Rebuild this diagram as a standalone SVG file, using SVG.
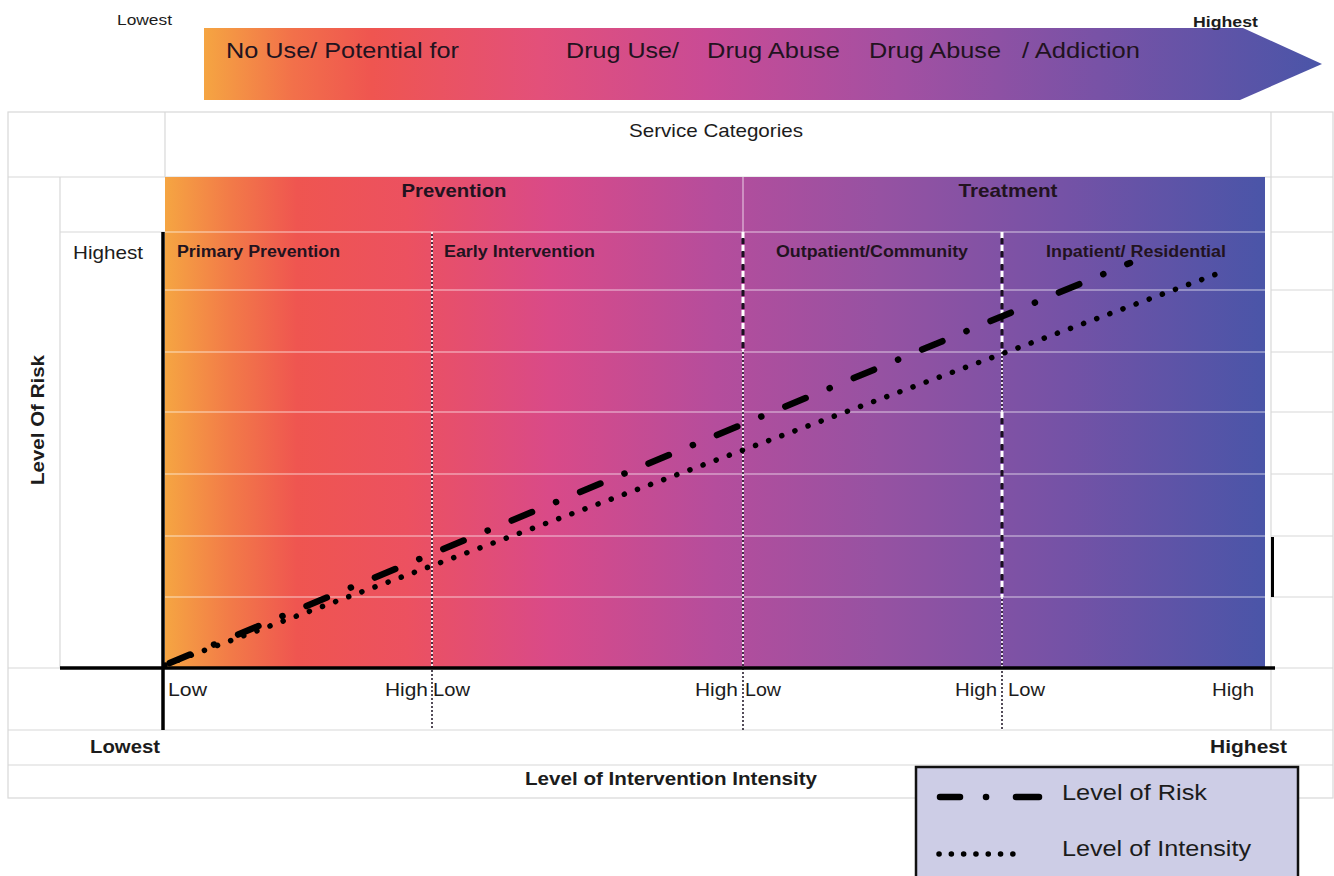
<svg xmlns="http://www.w3.org/2000/svg" width="1334" height="876" viewBox="0 0 1334 876">
<defs>
<linearGradient id="arrowGrad" x1="204" y1="0" x2="1322" y2="0" gradientUnits="userSpaceOnUse">
<stop offset="0" stop-color="#f5a542"/>
<stop offset="0.08" stop-color="#f2704a"/>
<stop offset="0.15" stop-color="#ef5550"/>
<stop offset="0.3" stop-color="#e3507a"/>
<stop offset="0.45" stop-color="#c94b95"/>
<stop offset="0.62" stop-color="#a350a2"/>
<stop offset="0.8" stop-color="#7852a6"/>
<stop offset="1" stop-color="#4a55a8"/>
</linearGradient>
<linearGradient id="chartGrad" x1="165" y1="0" x2="1265" y2="0" gradientUnits="userSpaceOnUse">
<stop offset="0" stop-color="#f5a542"/>
<stop offset="0.06" stop-color="#f27a48"/>
<stop offset="0.12" stop-color="#ef5550"/>
<stop offset="0.22" stop-color="#ec5160"/>
<stop offset="0.35" stop-color="#d94a88"/>
<stop offset="0.5" stop-color="#b54d9c"/>
<stop offset="0.65" stop-color="#9652a2"/>
<stop offset="0.82" stop-color="#7452a6"/>
<stop offset="1" stop-color="#4a55a8"/>
</linearGradient>
<style>
.grid{stroke:#d8d8d8;stroke-width:1.2;fill:none}
.wgrid{stroke:#ffffff;stroke-opacity:0.35;stroke-width:2}
.t{font-family:"Liberation Sans",Arial,sans-serif;fill:#1c1c1c}
.b{font-weight:bold}
.dk{fill:#22131f}
.axis{stroke:#000;stroke-width:3.5}
.dotW{stroke:#ffffff;stroke-width:1.6;stroke-dasharray:2 2}
.dotK{stroke:#2a2030;stroke-width:1.6;stroke-dasharray:2 2;stroke-dashoffset:2}
.dashW{stroke:#ffffff;stroke-width:3;stroke-dasharray:7 6}
.dashK{stroke:#1a1020;stroke-width:3;stroke-dasharray:6 7;stroke-dashoffset:7}
.risk{stroke:#000;stroke-width:6.5;stroke-linecap:round;fill:none}
.intens{stroke:#000;stroke-width:5.5;stroke-linecap:round;fill:none}
</style>
</defs>
<rect width="1334" height="876" fill="#ffffff"/>

<g id="top-arrow">
<polygon points="204,28 1243,28 1322,64 1240,100 204,100" fill="url(#arrowGrad)"/>
<text class="t" x="117" y="25" font-size="15" textLength="55" lengthAdjust="spacingAndGlyphs">Lowest</text>
<text class="t b" x="1193" y="27" font-size="15" textLength="65" lengthAdjust="spacingAndGlyphs">Highest</text>
<text class="t dk" x="226" y="58" font-size="22" textLength="233" lengthAdjust="spacingAndGlyphs">No Use/ Potential for</text>
<text class="t dk" x="566" y="58" font-size="22" textLength="113" lengthAdjust="spacingAndGlyphs">Drug Use/</text>
<text class="t dk" x="707" y="58" font-size="22" textLength="133" lengthAdjust="spacingAndGlyphs">Drug Abuse</text>
<text class="t dk" x="869" y="58" font-size="22" textLength="132" lengthAdjust="spacingAndGlyphs">Drug Abuse</text>
<text class="t dk" x="1022" y="58" font-size="22" textLength="118" lengthAdjust="spacingAndGlyphs">/ Addiction</text>
</g>

<g id="table-grid">
<rect x="8" y="112" width="1325" height="686" class="grid"/>
<line x1="8" y1="177" x2="1333" y2="177" class="grid"/>
<line x1="8" y1="730" x2="1333" y2="730" class="grid"/>
<line x1="8" y1="765" x2="1333" y2="765" class="grid"/>
<line x1="165" y1="112" x2="165" y2="177" class="grid"/>
<line x1="60" y1="177" x2="60" y2="668" class="grid"/>
<line x1="60" y1="232" x2="165" y2="232" class="grid"/>
<line x1="8" y1="668" x2="60" y2="668" class="grid"/>
<line x1="1271" y1="112" x2="1271" y2="730" class="grid"/>
<line x1="1271" y1="232" x2="1333" y2="232" class="grid"/>
<line x1="1271" y1="290" x2="1333" y2="290" class="grid"/>
<line x1="1271" y1="352" x2="1333" y2="352" class="grid"/>
<line x1="1271" y1="412" x2="1333" y2="412" class="grid"/>
<line x1="1271" y1="474" x2="1333" y2="474" class="grid"/>
<line x1="1271" y1="536" x2="1333" y2="536" class="grid"/>
<line x1="1271" y1="597" x2="1333" y2="597" class="grid"/>
<line x1="1271" y1="668" x2="1333" y2="668" class="grid"/>
<text class="t" x="716" y="137" font-size="19" text-anchor="middle" textLength="174" lengthAdjust="spacingAndGlyphs">Service Categories</text>
</g>

<g id="chart-area">
<rect x="165" y="177" width="1100" height="491" fill="url(#chartGrad)"/>
<line x1="165" y1="232" x2="1265" y2="232" class="wgrid"/>
<line x1="165" y1="290" x2="1265" y2="290" class="wgrid"/>
<line x1="165" y1="352" x2="1265" y2="352" class="wgrid"/>
<line x1="165" y1="412" x2="1265" y2="412" class="wgrid"/>
<line x1="165" y1="474" x2="1265" y2="474" class="wgrid"/>
<line x1="165" y1="536" x2="1265" y2="536" class="wgrid"/>
<line x1="165" y1="597" x2="1265" y2="597" class="wgrid"/>
<line x1="743" y1="177" x2="743" y2="232" stroke="#ffffff" stroke-opacity="0.5" stroke-width="1.5"/>
<rect x="1271" y="537" width="3" height="60" fill="#000"/>
</g>

<g id="dividers">
<line x1="432" y1="232" x2="432" y2="730" class="dotW"/>
<line x1="432" y1="232" x2="432" y2="730" class="dotK"/>
<line x1="743" y1="232" x2="743" y2="350" class="dashW"/>
<line x1="743" y1="232" x2="743" y2="350" class="dashK"/>
<line x1="743" y1="350" x2="743" y2="730" class="dotW"/>
<line x1="743" y1="350" x2="743" y2="730" class="dotK"/>
<line x1="1002" y1="232" x2="1002" y2="350" class="dashW"/>
<line x1="1002" y1="232" x2="1002" y2="350" class="dashK"/>
<line x1="1002" y1="350" x2="1002" y2="412" class="dotW"/>
<line x1="1002" y1="350" x2="1002" y2="412" class="dotK"/>
<line x1="1002" y1="412" x2="1002" y2="597" class="dashW"/>
<line x1="1002" y1="412" x2="1002" y2="597" class="dashK"/>
<line x1="1002" y1="597" x2="1002" y2="730" class="dotW"/>
<line x1="1002" y1="597" x2="1002" y2="730" class="dotK"/>
</g>

<g id="category-headers">
<text class="t b dk" x="454" y="197" font-size="19" text-anchor="middle" textLength="105" lengthAdjust="spacingAndGlyphs">Prevention</text>
<text class="t b dk" x="1008" y="197" font-size="19" text-anchor="middle" textLength="99" lengthAdjust="spacingAndGlyphs">Treatment</text>
</g>

<g id="node-primary-prevention">
<text class="t b dk" x="177" y="257" font-size="16" textLength="163" lengthAdjust="spacingAndGlyphs">Primary Prevention</text>
</g>
<g id="node-early-intervention">
<text class="t b dk" x="444" y="257" font-size="16" textLength="151" lengthAdjust="spacingAndGlyphs">Early Intervention</text>
</g>
<g id="node-outpatient">
<text class="t b dk" x="776" y="257" font-size="16" textLength="192" lengthAdjust="spacingAndGlyphs">Outpatient/Community</text>
</g>
<g id="node-inpatient">
<text class="t b dk" x="1046" y="257" font-size="16" textLength="180" lengthAdjust="spacingAndGlyphs">Inpatient/ Residential</text>
</g>

<g id="axes">
<line x1="163" y1="232" x2="163" y2="730" class="axis" stroke-width="3"/>
<line x1="60" y1="668" x2="1275" y2="668" class="axis"/>
<text class="t" x="73" y="259" font-size="19" textLength="70" lengthAdjust="spacingAndGlyphs">Highest</text>
<text class="t b" transform="translate(44,420) rotate(-90)" font-size="19" text-anchor="middle" textLength="130" lengthAdjust="spacingAndGlyphs">Level Of Risk</text>
<text class="t" x="168" y="696" font-size="19" textLength="39" lengthAdjust="spacingAndGlyphs">Low</text>
<text class="t" x="385" y="696" font-size="19" textLength="43" lengthAdjust="spacingAndGlyphs">High</text>
<text class="t" x="433" y="696" font-size="19" textLength="37" lengthAdjust="spacingAndGlyphs">Low</text>
<text class="t" x="695" y="696" font-size="19" textLength="43" lengthAdjust="spacingAndGlyphs">High</text>
<text class="t" x="745" y="696" font-size="19" textLength="36" lengthAdjust="spacingAndGlyphs">Low</text>
<text class="t" x="955" y="696" font-size="19" textLength="42" lengthAdjust="spacingAndGlyphs">High</text>
<text class="t" x="1008" y="696" font-size="19" textLength="37" lengthAdjust="spacingAndGlyphs">Low</text>
<text class="t" x="1212" y="696" font-size="19" textLength="42" lengthAdjust="spacingAndGlyphs">High</text>
<text class="t b" x="90" y="753" font-size="19" textLength="70" lengthAdjust="spacingAndGlyphs">Lowest</text>
<text class="t b" x="1210" y="753" font-size="19" textLength="77" lengthAdjust="spacingAndGlyphs">Highest</text>
<text class="t b" x="525" y="785" font-size="19" textLength="292" lengthAdjust="spacingAndGlyphs">Level of Intervention Intensity</text>
</g>

<g id="connectors">
<line x1="165" y1="665" x2="1222" y2="272" class="intens" stroke-dasharray="0.1 13.9"/>
<line x1="165" y1="665" x2="1130" y2="263" class="risk" stroke-dasharray="22 26 0.1 26" stroke-dashoffset="69"/>
</g>

<g id="legend">
<rect x="916" y="767" width="382" height="125" fill="#cdcde6" stroke="#111" stroke-width="2.5"/>
<line x1="940" y1="797" x2="960" y2="797" class="risk"/>
<line x1="986" y1="797" x2="986.1" y2="797" class="risk"/>
<line x1="1016" y1="797" x2="1039" y2="797" class="risk"/>
<line x1="939" y1="854" x2="1025" y2="854" class="intens" stroke-dasharray="0.1 12.2"/>
<text class="t" x="1062" y="800" font-size="22" textLength="145" lengthAdjust="spacingAndGlyphs">Level of Risk</text>
<text class="t" x="1062" y="856" font-size="22" textLength="189" lengthAdjust="spacingAndGlyphs">Level of Intensity</text>
</g>
</svg>
